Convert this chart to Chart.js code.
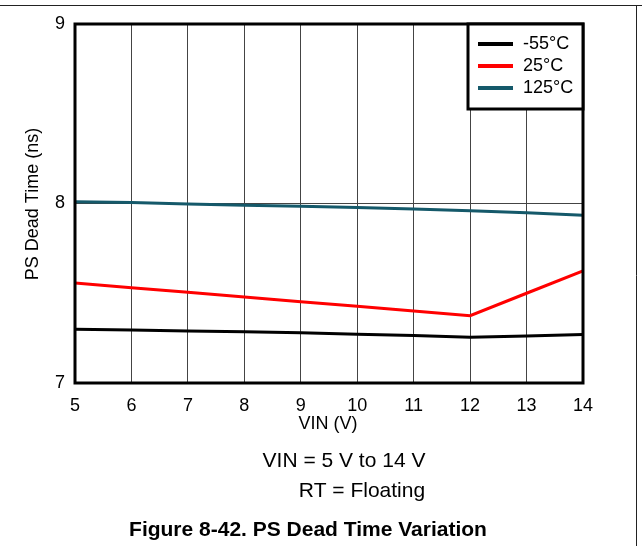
<!DOCTYPE html>
<html>
<head>
<meta charset="utf-8">
<script src="https://cdn.jsdelivr.net/npm/chart.js@4"></script>
<style>
  html, body { margin: 0; padding: 0; background: #fff; }
  #wrap { width: 642px; height: 546px; position: relative; }
</style>
</head>
<body>
<div id="wrap"><canvas id="deadTimeChart" width="642" height="546"></canvas></div>
<script>
// VIN (V) on the x axis
const vin = [5, 6, 7, 8, 9, 10, 11, 12, 13, 14];
// dead time (ns) per temperature
const tempMinus55 = [7.30, 7.295, 7.29, 7.285, 7.28, 7.272, 7.265, 7.255, 7.262, 7.27];
const temp25 = [7.557, 7.531, 7.505, 7.479, 7.453, 7.427, 7.401, 7.375, 7.50, 7.624];
const temp125 = [8.01, 8.005, 7.997, 7.99, 7.985, 7.978, 7.97, 7.96, 7.948, 7.935];
const seriesLabels = ['-55°C', '25°C', '125°C'];
const seriesColors = ['#000000', '#ff0000', '#15596a'];
const yTicks = [7, 8, 9];

const FONT = "'Liberation Sans', Arial, sans-serif";

function toPoints(ys) {
    return vin.map((x, i) => ({ x: x, y: ys[i] }));
}

// frame, inside legend, axis titles and the notes under the chart
const extras = {
    id: 'extras',
    afterDraw(chart) {
        const ctx = chart.ctx;
        const a = chart.chartArea;
        ctx.save();

        // page borders
        ctx.strokeStyle = '#222';
        ctx.lineWidth = 1;
        ctx.beginPath();
        ctx.moveTo(0, 5.5); ctx.lineTo(642, 5.5);
        ctx.moveTo(636.5, 5); ctx.lineTo(636.5, 546);
        ctx.stroke();

        // plot frame
        ctx.strokeStyle = '#000';
        ctx.lineWidth = 3;
        ctx.strokeRect(a.left, a.top, a.right - a.left, a.bottom - a.top);

        // legend box
        const lx = 468, ly = a.top, lw = a.right - lx, lh = 85;
        ctx.fillStyle = '#fff';
        ctx.fillRect(lx, ly, lw, lh);
        ctx.strokeRect(lx, ly, lw, lh);
        ctx.font = '18px ' + FONT;
        ctx.textBaseline = 'middle';
        ctx.textAlign = 'left';
        seriesLabels.forEach((lab, i) => {
            const y = ly + 20 + i * 22;
            ctx.strokeStyle = seriesColors[i];
            ctx.lineWidth = 4;
            ctx.beginPath();
            ctx.moveTo(478, y); ctx.lineTo(513, y);
            ctx.stroke();
            ctx.fillStyle = '#000';
            ctx.fillText(lab, 523, y);
        });

        // axis titles
        ctx.fillStyle = '#000';
        ctx.font = '18px ' + FONT;
        ctx.textAlign = 'center';
        ctx.fillText('VIN (V)', 328, 424);
        ctx.save();
        ctx.translate(33, 204);
        ctx.rotate(-Math.PI / 2);
        ctx.fillText('PS Dead Time (ns)', 0, 0);
        ctx.restore();

        // conditions and caption
        ctx.font = '21px ' + FONT;
        ctx.fillText('VIN = 5 V to 14 V', 344, 461);
        ctx.fillText('RT = Floating', 362, 491);
        ctx.font = 'bold 21px ' + FONT;
        ctx.fillText('Figure 8-42. PS Dead Time Variation', 308, 530);
        ctx.restore();
    }
};

new Chart(document.getElementById('deadTimeChart'), {
    type: 'line',
    data: {
        datasets: seriesLabels.map((lab, i) => ({
            label: lab,
            data: toPoints([tempMinus55, temp25, temp125][i]),
            borderColor: seriesColors[i],
            borderWidth: 3,
            pointRadius: 0,
            tension: 0,
            fill: false
        }))
    },
    options: {
        responsive: false,
        animation: false,
        layout: { padding: { top: 24, right: 59, left: 0, bottom: 0 } },
        plugins: { legend: { display: false }, tooltip: { enabled: false } },
        scales: {
            x: {
                type: 'linear',
                min: 5,
                max: 14,
                afterFit(scale) { scale.height = 163; },
                ticks: { stepSize: 1, padding: 12, color: '#000', font: { family: FONT, size: 18 } },
                grid: { color: '#444', lineWidth: 1, drawTicks: false },
                border: { display: false }
            },
            y: {
                min: 7,
                max: 9,
                afterFit(scale) { scale.width = 75; },
                afterBuildTicks(scale) { scale.ticks = yTicks.map(v => ({ value: v })); },
                ticks: { padding: 10, color: '#000', font: { family: FONT, size: 18 } },
                grid: { color: '#444', lineWidth: 1, drawTicks: false },
                border: { display: false }
            }
        }
    },
    plugins: [extras]
});
</script>
</body>
</html>
